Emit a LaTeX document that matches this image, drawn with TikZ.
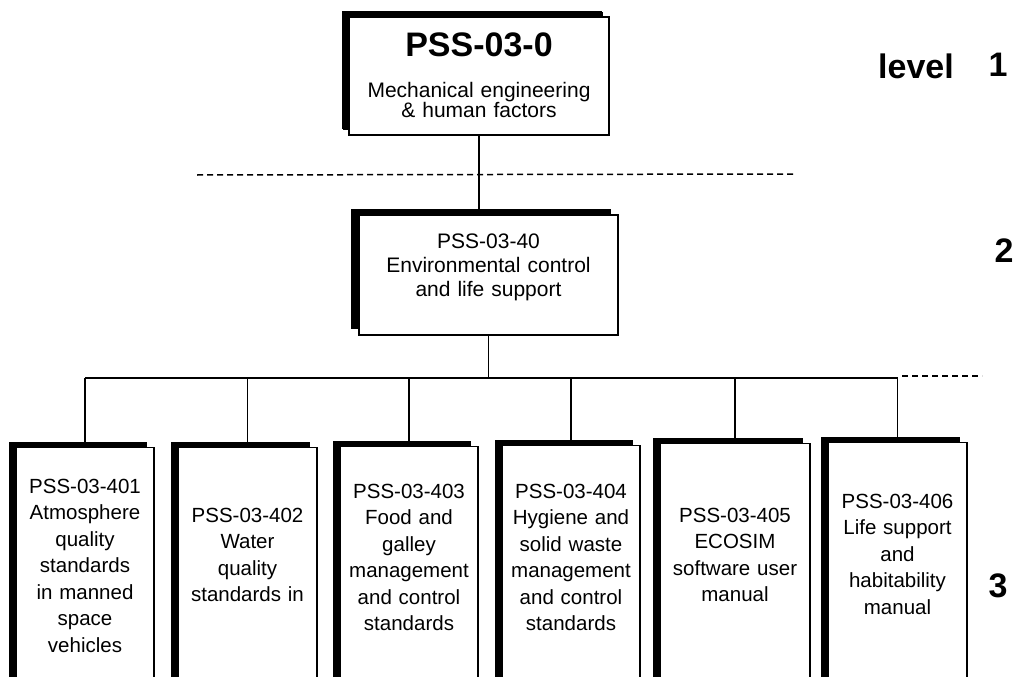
\documentclass[tikz,border=0pt]{standalone}
\usepackage{fontspec}
\setmainfont{Liberation Sans}
\usetikzlibrary{shadows}

\begin{document}
\begin{tikzpicture}[x=1pt, y=-1pt, line width=1.4pt,
    docbox/.style={draw, fill=white, line width=1.3pt, inner sep=0pt,
        general shadow={fill=black, shadow xshift=-7pt, shadow yshift=6pt}},
    leafbox/.style={docbox, anchor=north, minimum width=138pt, minimum height=260pt},
    leaftext/.style={anchor=base, align=center, text width=134pt, inner sep=0pt,
        font=\fontsize{20.5}{26.5}\selectfont},
    levelsep/.style={dash pattern=on 6pt off 4pt, line width=1.5pt},
    levelnum/.style={anchor=base, inner sep=0pt, font=\fontsize{34}{34}\selectfont\bfseries}]
    \clip (0,0) rectangle (1018,677);

    % Level 1
    \node[docbox, minimum width=260pt, minimum height=118pt,
        general shadow={fill=black, shadow xshift=-6pt, shadow yshift=5pt}] (top) at (479,76) {};
    \node[anchor=base, inner sep=0pt, font=\fontsize{34}{34}\selectfont\bfseries] (toptitle) at (479,57) {PSS-03-0};
    \node[anchor=base, align=center, text width=250pt, inner sep=0pt,
        font=\fontsize{21}{18.3}\selectfont] (topsub) at (479,97)
        {\lineskiplimit=-20pt\relax Mechanical engineering\\\& human factors};

    % Level 2
    \node[docbox, minimum width=259pt, minimum height=120pt,
        general shadow={fill=black, shadow xshift=-8pt, shadow yshift=6pt}] (ecls) at (488.5,275) {};
    \node[anchor=base, align=center, text width=250pt, inner sep=0pt,
        font=\fontsize{21}{24}\selectfont] (eclstxt) at (488.5,248) {PSS-03-40\\Environmental control\\and life support};

    % Level 3
    \node[leafbox] (d401) at (85,447) {};
    \node[leafbox, minimum width=139pt] (d402) at (247.5,447) {};
    \node[leafbox] (d403) at (409,446) {};
    \node[leafbox] (d404) at (571,445) {};
    \node[leafbox, minimum width=150pt] (d405) at (735,443) {};
    \node[leafbox, minimum width=139pt] (d406) at (897.5,442) {};

    \node[leaftext] (t401) at (85,493) {PSS-03-401\\Atmosphere\\quality\\standards\\in manned\\space\\vehicles};
    \node[leaftext] (t402) at (247.5,522) {PSS-03-402\\Water\\quality\\standards in};
    \node[leaftext] (t403) at (409,498) {PSS-03-403\\Food and\\galley\\management\\and control\\standards};
    \node[leaftext] (t404) at (571,498) {PSS-03-404\\Hygiene and\\solid waste\\management\\and control\\standards};
    \node[leaftext, text width=146pt] (t405) at (735,522) {PSS-03-405\\ECOSIM\\software user\\manual};
    \node[leaftext] (t406) at (897.5,508) {PSS-03-406\\Life support\\and\\habitability\\manual};

    % Connectors
    \coordinate (busL) at (85,378);
    \coordinate (busR) at (898,378);
    \draw (top.south) -- (top.south |- ecls.north);
    \draw (ecls.south) -- (ecls.south |- busL);
    \draw (busL) -- (busR);
    \draw (d401.north) -- (d401.north |- busL);
    \draw (d402.north) -- (d402.north |- busL);
    \draw (d403.north) -- (d403.north |- busL);
    \draw (d404.north) -- (d404.north |- busL);
    \draw (d405.north) -- (d405.north |- busL);
    \draw (d406.north) -- (d406.north |- busL);

    % Level separators
    \coordinate (sepA) at (197,175);
    \coordinate (sepB) at (794,174);
    \coordinate (sepC) at (902,376);
    \coordinate (sepD) at (982,376);
    \draw[levelsep] (sepA) -- (sepB);
    \draw[levelsep] (sepC) -- (sepD);

    % Level labels
    \node[levelnum] (lvl) at (916,79) {level};
    \node[levelnum] (lvl1) at (998,77) {1};
    \node[levelnum] (lvl2) at (1004,262) {2};
    \node[levelnum] (lvl3) at (998,597) {3};
\end{tikzpicture}
\end{document}
